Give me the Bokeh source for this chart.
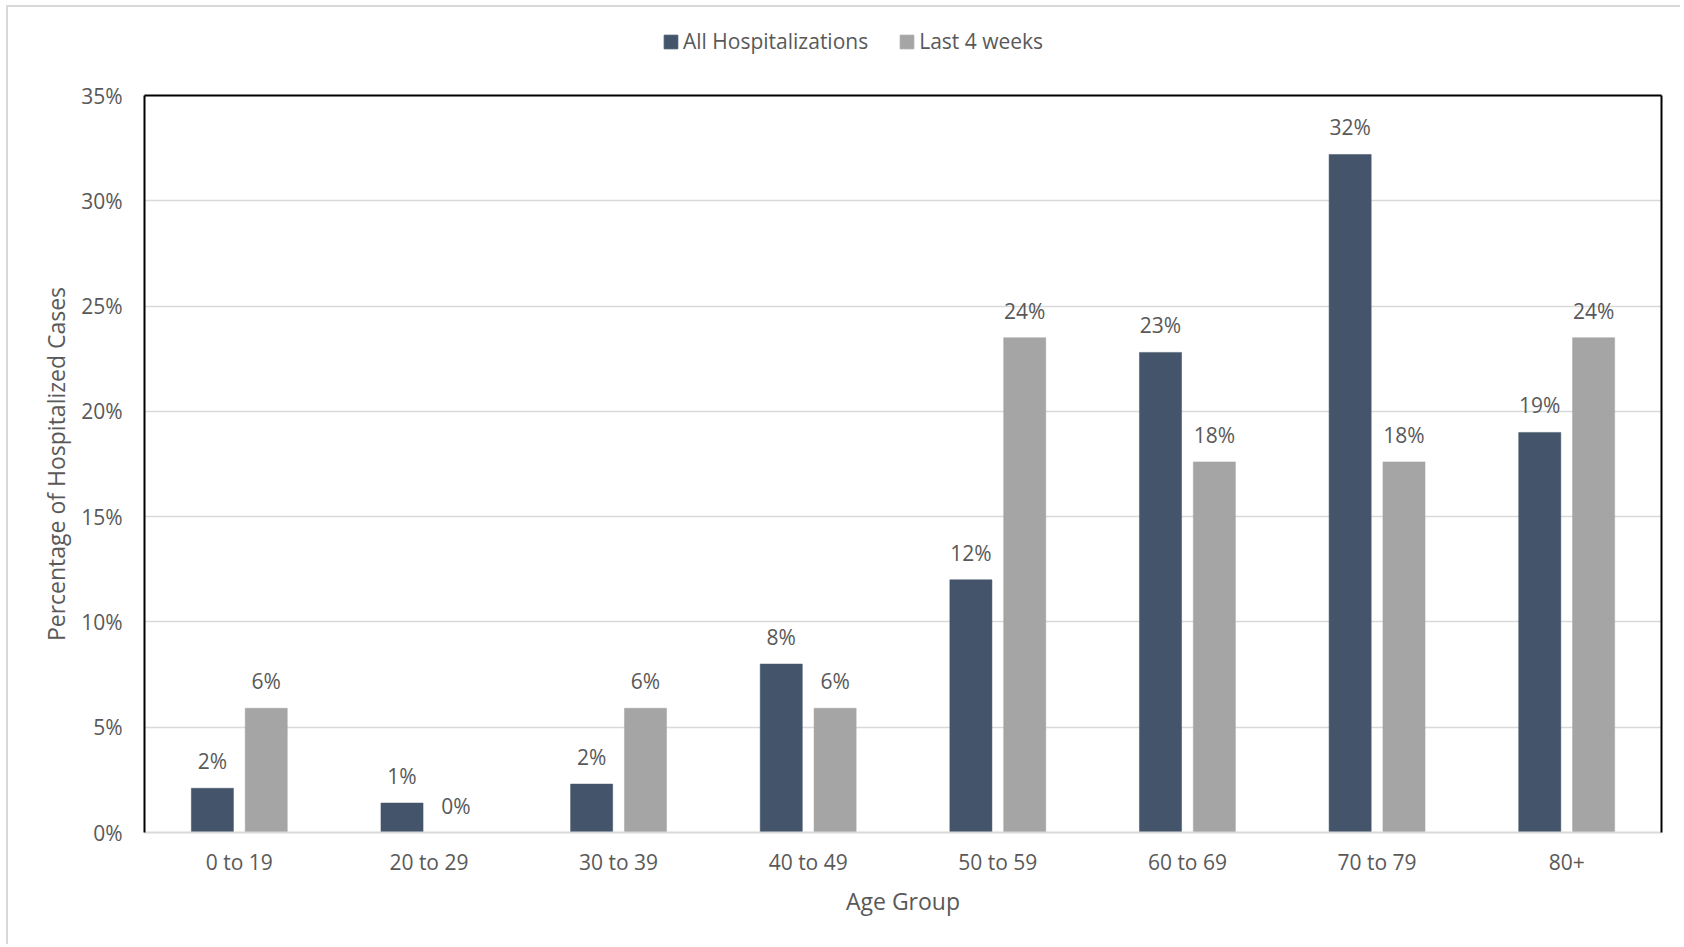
from bokeh.plotting import figure
from bokeh.layouts import column
from bokeh.models import (ColumnDataSource, FactorRange, Range1d, LinearAxis, FixedTicker,
                          PrintfTickFormatter, Legend, LegendItem, CategoricalAxis)
from bokeh.transform import dodge
from bokeh.core.properties import value
from bokeh.embed import file_html
from bokeh.resources import INLINE

# ---- data ----
age_groups = ["0 to 19", "20 to 29", "30 to 39", "40 to 49", "50 to 59", "60 to 69", "70 to 79", "80+"]
all_hosp = [2.1, 1.4, 2.3, 8.0, 12.0, 22.8, 32.2, 19.0]
last_4_weeks = [5.9, 0.0, 5.9, 5.9, 23.5, 17.6, 17.6, 23.5]
y_ticks = [0, 5, 10, 15, 20, 25, 30, 35]
series_names = ["All Hospitalizations", "Last 4 weeks"]


def pct_label(v):
    return f"{int(v + 0.5)}%"


FONT = "Open Sans"
TXT = "#595959"
DARK = "#44546A"
GRAY = "#A5A5A5"
GRID = "#D9D9D9"
TICK_FS = "21px"
TITLE_FS = "23px"

W_TOT = 1680
LEG_H = 60
MAIN_H = 884

src = ColumnDataSource(dict(
    age=age_groups,
    all=all_hosp,
    last=last_4_weeks,
    all_lbl=[pct_label(v) for v in all_hosp],
    last_lbl=[pct_label(v) for v in last_4_weeks],
))

# ---------- legend strip (bars sit outside its visible range; only the legend shows) ----------
lf = figure(width=W_TOT, height=LEG_H, output_backend="svg", toolbar_location=None,
            x_range=FactorRange(factors=age_groups, range_padding=0), y_range=Range1d(100, 200),
            min_border=0, x_axis_type=None, y_axis_type=None)
lf.outline_line_color = None
lf.background_fill_color = None
lf.border_fill_color = None
lf.xgrid.visible = False
lf.ygrid.visible = False
lr1 = lf.vbar(x="age", top="all", width=0.2, source=src, fill_color=DARK, line_color=DARK)
lr2 = lf.vbar(x="age", top="last", width=0.2, source=src, fill_color=GRAY, line_color=GRAY)
legend = Legend(items=[LegendItem(label=series_names[0], renderers=[lr1]),
                       LegendItem(label=series_names[1], renderers=[lr2])],
                orientation="horizontal", location=(518, 5),
                glyph_width=17, glyph_height=17, label_standoff=4, spacing=30,
                padding=0, margin=0, border_line_color=None, background_fill_alpha=0,
                label_text_font=FONT, label_text_font_size=TICK_FS, label_text_color=TXT)
lf.add_layout(legend, "center")

# ---------- main chart ----------
p = figure(width=W_TOT, height=MAIN_H, output_backend="svg", toolbar_location=None,
           x_range=FactorRange(factors=age_groups, range_padding=0),
           y_range=Range1d(0, 35),
           min_border_left=144, min_border_right=19, min_border_top=35, min_border_bottom=112)
p.outline_line_color = None
p.background_fill_color = "white"
p.border_fill_color = None

OFF = 0.142
W = 0.222
r1 = p.vbar(x=dodge("age", -OFF, range=p.x_range), top="all", width=W, source=src,
            fill_color=DARK, line_color=DARK, line_width=0.5)
r2 = p.vbar(x=dodge("age", OFF, range=p.x_range), top="last", width=W, source=src,
            fill_color=GRAY, line_color=GRAY, line_width=0.5)

p.text(x=dodge("age", -OFF, range=p.x_range), y="all", text="all_lbl", source=src,
       text_font=value(FONT), text_font_size=TICK_FS, text_color=TXT,
       text_align="center", text_baseline="alphabetic", y_offset=-27)
p.text(x=dodge("age", OFF, range=p.x_range), y="last", text="last_lbl", source=src,
       text_font=value(FONT), text_font_size=TICK_FS, text_color=TXT,
       text_align="center", text_baseline="alphabetic", y_offset=-27)

# grid
p.xgrid.grid_line_color = None
p.ygrid.grid_line_color = GRID
p.ygrid.grid_line_width = 1.5
p.ygrid.ticker = FixedTicker(ticks=y_ticks)

# y axis
ya = p.yaxis[0]
ya.ticker = FixedTicker(ticks=y_ticks)
ya.formatter = PrintfTickFormatter(format="%d%%")
ya.axis_line_color = "black"
ya.axis_line_width = 2
ya.major_tick_line_color = None
ya.minor_tick_line_color = None
ya.major_tick_out = 0
ya.major_tick_in = 0
ya.major_label_standoff = 22
ya.major_label_text_font = FONT
ya.major_label_text_font_size = TICK_FS
ya.major_label_text_color = TXT
ya.axis_label = "Percentage of Hospitalized Cases"
ya.axis_label_text_font = FONT
ya.axis_label_text_font_size = TITLE_FS
ya.axis_label_text_font_style = "normal"
ya.axis_label_text_color = TXT
ya.axis_label_standoff = 6

# x axis
xa = p.xaxis[0]
xa.axis_line_color = GRID
xa.axis_line_width = 2
xa.major_tick_line_color = None
xa.major_tick_out = 0
xa.major_tick_in = 0
xa.major_label_standoff = 15
xa.major_label_text_font = FONT
xa.major_label_text_font_size = TICK_FS
xa.major_label_text_color = TXT
xa.axis_label = "Age Group"
xa.axis_label_text_font = FONT
xa.axis_label_text_font_size = TITLE_FS
xa.axis_label_text_font_style = "normal"
xa.axis_label_text_color = TXT
xa.axis_label_standoff = 6

# frame border: right and top
ra = LinearAxis(ticker=FixedTicker(ticks=[]), axis_line_color="black", axis_line_width=2,
                major_tick_line_color=None, minor_tick_line_color=None,
                major_label_text_font_size="0px")
p.add_layout(ra, "right")
ta = CategoricalAxis(axis_line_color="black", axis_line_width=2,
                     major_tick_line_color=None, minor_tick_line_color=None,
                     major_label_text_font_size="0px", major_label_text_alpha=0)
p.add_layout(ta, "above")

root = column(lf, p, spacing=0,
              styles={"background-color": "white",
                      "box-shadow": "inset 6px 5px 0 0 white, inset 8px 7px 0 0 #D9D9D9"})

open("out.html", "w").write(file_html(root, INLINE))
